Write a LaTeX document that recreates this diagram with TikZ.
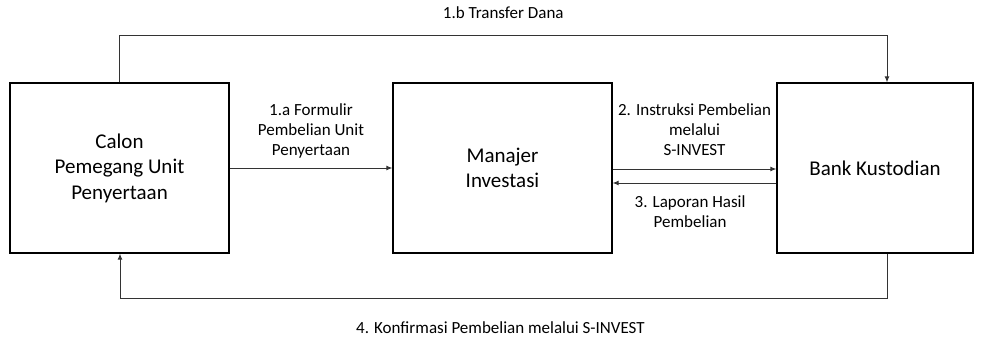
\documentclass[tikz,border=0pt]{standalone}
\usepackage{fontspec}
\setmainfont{Carlito}
\usetikzlibrary{positioning, arrows.meta}

\begin{document}
\begin{tikzpicture}[x=1pt, y=-1pt, node distance=383pt, on grid, >={Latex[length=6pt, width=5pt]},
    party/.style={draw, line width=1.3pt, minimum height=170pt, inner sep=0pt, align=center,
        font=\fontsize{21}{25.5}\selectfont},
    flow/.style={->, line width=0.9pt, draw=black!80},
    lbl/.style={align=center, font=\fontsize{17}{20}\selectfont, inner sep=0pt}]
    \useasboundingbox (0,0) rectangle (984,338);

    % Nodes
    \node[party, minimum width=219pt] (calon) at (119.5,168) {Calon\\Pemegang Unit\\Penyertaan};
    \node[party, minimum width=219pt] (mi) [right=of calon] {Manajer\\Investasi};
    \node[party, minimum width=196pt] (bk) [right=372.5pt of mi] {Bank Kustodian};

    % Transitions
    \draw[flow] (calon.north) -- ++(0,-47) -| ([xshift=12pt]bk.north)
        node[lbl, pos=0.25, above=16pt] {1.b Transfer Dana};
    \draw[flow] (calon.east) -- (mi.west)
        node[lbl, midway, above=9pt] {1.a Formulir\\Pembelian Unit\\Penyertaan};
    \draw[flow] ([yshift=-1pt]mi.east) -- ([yshift=-1pt]bk.west)
        node[lbl, midway, above=13pt] {2. Instruksi Pembelian\\melalui\\S-INVEST};
    \draw[flow] ([yshift=-15pt]bk.west) -- ([yshift=-15pt]mi.east)
        node[lbl, pos=0.527, below=12pt] {3. Laporan Hasil\\Pembelian};
    \draw[flow] ([xshift=12pt]bk.south) -- ++(0,45) -| ([xshift=0.5pt]calon.south)
        node[lbl, pos=0.252, below=23pt] {4. Konfirmasi Pembelian melalui S-INVEST};
\end{tikzpicture}
\end{document}
